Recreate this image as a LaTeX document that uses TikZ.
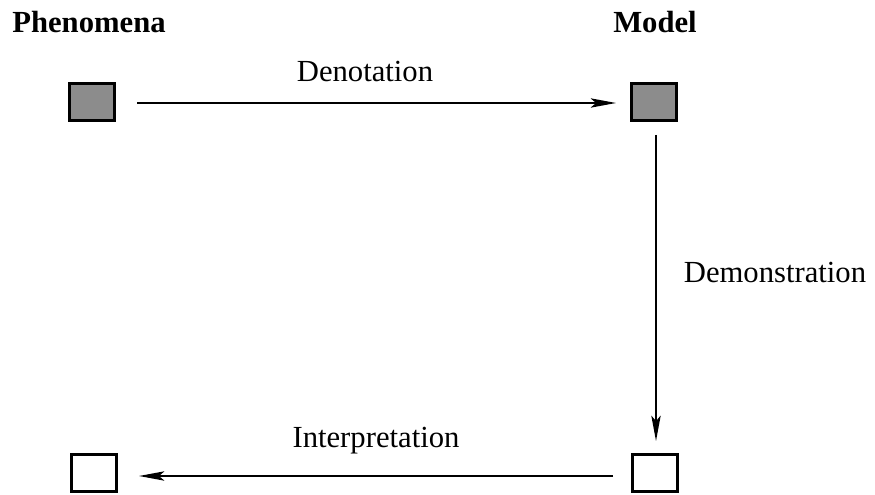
\documentclass[tikz,border=0pt]{standalone}
\usepackage{fontspec}
\setmainfont{Liberation Serif}
\usetikzlibrary{arrows.meta}
\begin{document}
\begin{tikzpicture}[x=0.75pt,y=-0.75pt,
  sq/.style={draw=black,line width=2.2pt,minimum width=45*0.75pt,minimum height=37*0.75pt,inner sep=0pt},
  dark/.style={sq,fill=black!45},
  light/.style={sq,fill=white},
  conn/.style={line width=1.4pt,-{Stealth[length=19pt,width=7pt,inset=4pt]}},
  lbl/.style={font=\fontsize{23}{27}\selectfont,inner sep=0pt},
  head/.style={font=\fontsize{23}{27}\selectfont\bfseries,inner sep=0pt}]
\useasboundingbox (0,0) rectangle (875,495);
\node[head] (phen) at (89,22) {Phenomena};
\node[head] (model) at (655,22) {Model};
\node[dark] (tl) at (92,102) {};
\node[dark] (tr) at (654,102) {};
\node[light] (br) at (655,473) {};
\node[light] (bl) at (94,473) {};
\coordinate (a1s) at (137,103);
\coordinate (a1e) at (616,103);
\draw[conn] (a1s) -- (a1e);
\coordinate (a2s) at (656,135);
\coordinate (a2e) at (656,441);
\draw[conn] (a2s) -- (a2e);
\coordinate (a3s) at (613,476);
\coordinate (a3e) at (139,476);
\draw[conn] (a3s) -- (a3e);
\node[lbl] (den) at (365,72) {Denotation};
\node[lbl] (dem) at (775,272) {Demonstration};
\node[lbl] (int) at (376,441) {Interpretation};
\end{tikzpicture}
\end{document}
